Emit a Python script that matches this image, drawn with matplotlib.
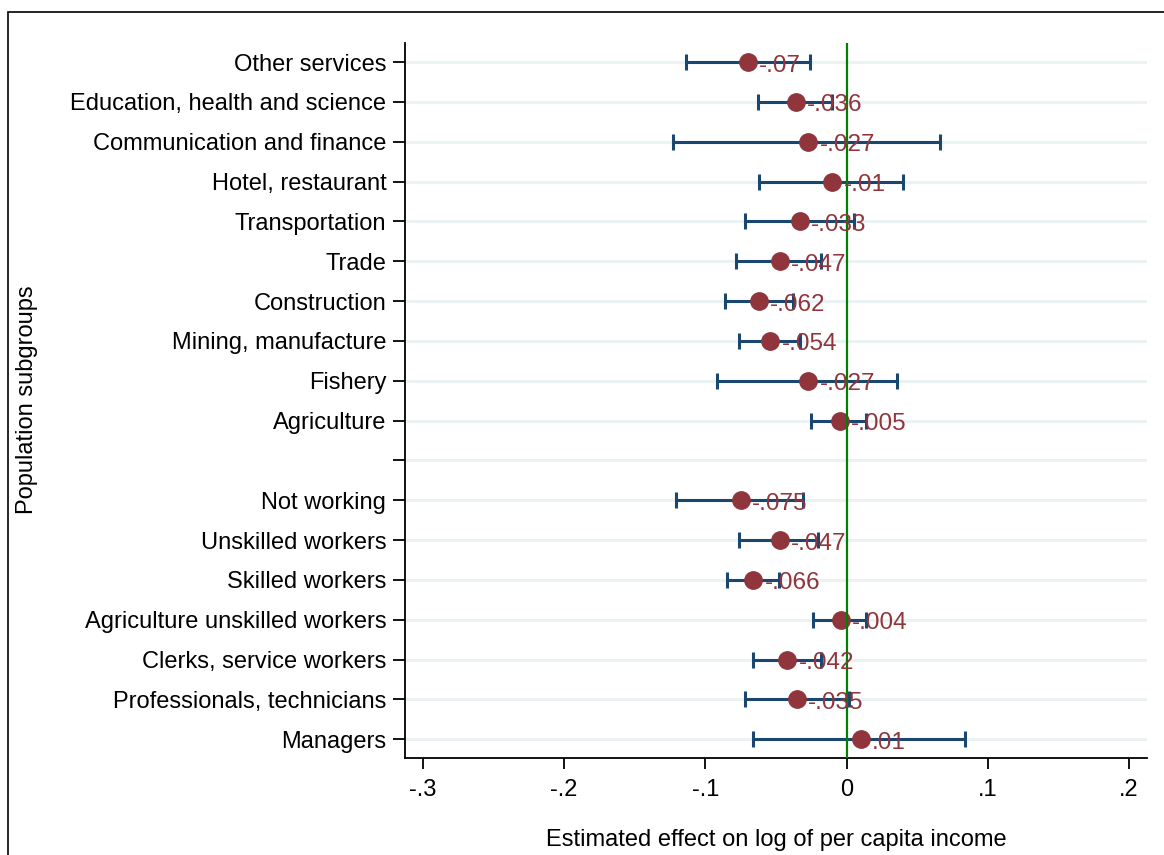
import matplotlib
matplotlib.use('Agg')
from matplotlib import pyplot as plt
from matplotlib.patches import Rectangle

plt.rcParams['font.family'] = ['Liberation Sans', 'DejaVu Sans']

# groups from top to bottom; the empty string is the spacer row
groups = ['Other services', 'Education, health and science', 'Communication and finance',
          'Hotel, restaurant', 'Transportation', 'Trade', 'Construction',
          'Mining, manufacture', 'Fishery', 'Agriculture', '',
          'Not working', 'Unskilled workers', 'Skilled workers',
          'Agriculture unskilled workers', 'Clerks, service workers',
          'Professionals, technicians', 'Managers']

coef = [-0.070, -0.036, -0.027, -0.010, -0.033, -0.047, -0.062, -0.054, -0.027, -0.005,
        None,
        -0.075, -0.047, -0.066, -0.004, -0.042, -0.035, 0.010]
ci_low = [-0.114, -0.063, -0.123, -0.062, -0.072, -0.078, -0.086, -0.076, -0.092, -0.025,
          None,
          -0.121, -0.076, -0.085, -0.024, -0.066, -0.072, -0.066]
ci_high = [-0.026, -0.010, 0.066, 0.040, 0.005, -0.018, -0.038, -0.033, 0.036, 0.014,
           None,
           -0.031, -0.020, -0.048, 0.014, -0.018, 0.002, 0.084]
labels = ['-.07', '-.036', '-.027', '-.01', '-.033', '-.047', '-.062', '-.054', '-.027', '-.005',
          '',
          '-.075', '-.047', '-.066', '-.004', '-.042', '-.035', '.01']

xticks = [-0.3, -0.2, -0.1, 0, 0.1, 0.2]
xticklabels = ['-.3', '-.2', '-.1', '0', '.1', '.2']

navy = '#1a476f'
cranberry = '#90353b'

W, H = 1164, 855
fig = plt.figure(figsize=(W / 100, H / 100), dpi=100)
ax = fig.add_axes([405 / W, (H - 758) / H, (1147 - 405) / W, (758 - 43) / H])

ypos = list(range(len(groups)))

# light horizontal grid on each row
for y in ypos:
    ax.axhline(y, color='#eaf2f3', lw=2.2, zorder=0)

for y, c, lo, hi, lab in zip(ypos, coef, ci_low, ci_high, labels):
    if c is None:
        continue
    ax.errorbar(c, y, xerr=[[c - lo], [hi - c]], fmt='none', ecolor=navy,
                elinewidth=2.2, capsize=5.5, capthick=2.2, zorder=2)
    ax.plot(c, y, 'o', color=cranberry, ms=12.5, zorder=3)
    ax.annotate(lab, (c, y), xytext=(8, -2.5), textcoords='offset points',
                ha='left', va='center', fontsize=17.5, color=cranberry, zorder=5)

ax.axvline(0, color='#008000', lw=1.6, zorder=4)

ax.set_xlim(-0.3127, 0.2127)
ax.set_ylim(17.47, -0.48)
ax.set_yticks(ypos)
ax.set_yticklabels(groups, fontsize=17)
ax.set_xticks(xticks)
ax.set_xticklabels(xticklabels, fontsize=17)
ax.tick_params(axis='y', length=8.5, width=1.3, pad=5)
ax.tick_params(axis='x', length=8, width=1.3, pad=7)

for s in ['top', 'right']:
    ax.spines[s].set_visible(False)
for s in ['left', 'bottom']:
    ax.spines[s].set_linewidth(1.3)

ax.set_xlabel('Estimated effect on log of per capita income', fontsize=17, labelpad=20)
fig.text(27 / W, 1 - 400 / H, 'Population subgroups', rotation=90,
         ha='center', va='center', fontsize=17)

# outer frame around the graph region
fig.patches.append(Rectangle((8 / W, -0.1), 1.2, 1 - 12 / H + 0.1, transform=fig.transFigure,
                             fill=False, edgecolor='black', lw=1.2))

fig.savefig('out.png', dpi=100, facecolor='white')
